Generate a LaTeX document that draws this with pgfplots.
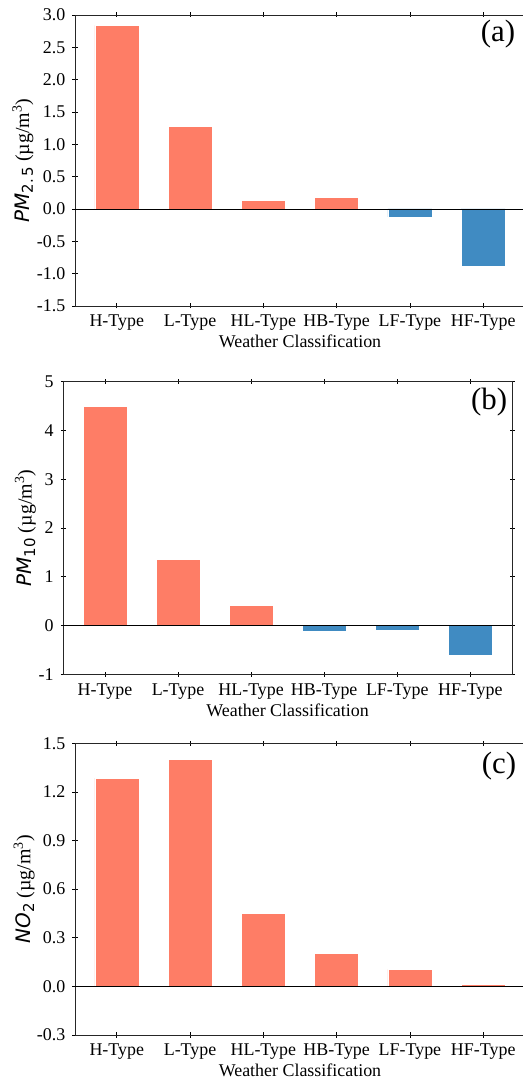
\documentclass[border=0pt]{standalone}
\usepackage{fontspec}
\setmainfont{Liberation Serif}
\newfontfamily\dejavu{DejaVu Sans}
\usepackage{pgfplots}
\pgfplotsset{compat=1.18}
\definecolor{redbar}{RGB}{254,125,102}
\definecolor{bluebar}{RGB}{64,139,194}
\newcommand{\lblfont}{\fontsize{18}{20}\selectfont}
\newcommand{\ylfont}{\fontsize{20}{22}\selectfont}
\newcommand{\subfont}{\dejavu\fontsize{15}{15}\selectfont}
\pgfplotsset{
  panel/.style={
    scale only axis,
    anchor=south west,
    axis on top,
    xmin=-0.57, xmax=5.57,
    xtick={0,1,2,3,4,5},
    xticklabels={H-Type,L-Type,HL-Type,HB-Type,LF-Type,HF-Type},
    tick align=center,
    major tick length=5bp,
    tick style={black, line width=0.7bp},
    axis line style={black!85, line width=0.8bp},
    ticklabel style={font=\lblfont},
    xticklabel style={anchor=base, inner sep=0pt, yshift=-18.3bp},
    yticklabel style={anchor=east, inner sep=0pt, xshift=-7bp},
    xlabel={Weather Classification},
    xlabel style={font=\lblfont, at={(axis description cs:0.5,0)}, anchor=base, inner sep=0pt},
    ylabel style={font=\ylfont, anchor=center, rotate=0},
    extra y ticks={0},
    extra y tick labels={},
    extra y tick style={grid=major, major grid style={black, line width=0.9bp}, major tick length=0pt},
    clip=false,
  },
  redb/.style={ybar, bar width=0.6, bar shift=0pt, fill=redbar, draw=white, line width=0.5bp},
  blueb/.style={ybar, bar width=0.6, bar shift=0pt, fill=bluebar, draw=white, line width=0.5bp},
}
\begin{document}
\begin{tikzpicture}
% ---------- (a) ----------
\begin{axis}[panel,
  at={(75bp,773bp)}, width=450bp, height=291bp,
  ymin=-1.5, ymax=3.0,
  ytick={-1.5,-1.0,-0.5,0.0,0.5,1.0,1.5,2.0,2.5,3.0},
  yticklabels={-1.5,-1.0,-0.5,0.0,0.5,1.0,1.5,2.0,2.5,3.0},
  xlabel style={yshift=-42bp},
  ylabel={{\dejavu\itshape PM}\raisebox{-0.4ex}{\subfont 2.\,5} (µg/m\textsuperscript{3})},
  ylabel style={at={(axis description cs:-0.1155,0.5)}},
]
\addplot[redb] coordinates {(0,2.84) (1,1.28) (2,0.13) (3,0.175)};
\addplot[blueb] coordinates {(4,-0.12) (5,-0.88)};
\node[font=\fontsize{31}{33}\selectfont] at (axis description cs:0.94,0.935) {(a)};
\end{axis}
% ---------- (b) ----------
\begin{axis}[panel,
  at={(63.3bp,404.7bp)}, width=448.7bp, height=292.6bp,
  ymin=-1, ymax=5,
  ytick={-1,0,1,2,3,4,5},
  yticklabels={-1,0,1,2,3,4,5},
  xlabel style={yshift=-42.4bp},
  ylabel={{\dejavu\itshape PM}\raisebox{-0.4ex}{\subfont 10} (µg/m\textsuperscript{3})},
  ylabel style={at={(axis description cs:-0.0847,0.5)}},
]
\addplot[redb] coordinates {(0,4.5) (1,1.36) (2,0.42)};
\addplot[blueb] coordinates {(3,-0.11) (4,-0.10) (5,-0.61)};
\node[font=\fontsize{31}{33}\selectfont] at (axis description cs:0.949,0.932) {(b)};
\end{axis}
% ---------- (c) ----------
\begin{axis}[panel,
  at={(75bp,44bp)}, width=450bp, height=291.7bp,
  ymin=-0.3, ymax=1.5,
  ytick={-0.3,0,0.3,0.6,0.9,1.2,1.5},
  yticklabels={-0.3,0.0,0.3,0.6,0.9,1.2,1.5},
  xlabel style={yshift=-41.7bp},
  ylabel={{\dejavu\itshape NO}\raisebox{-0.4ex}{\subfont 2} (µg/m\textsuperscript{3})},
  ylabel style={at={(axis description cs:-0.113,0.5)}},
]
\addplot[redb] coordinates {(0,1.285) (1,1.40) (2,0.45) (3,0.204) (4,0.105) (5,0.012)};
\node[font=\fontsize{31}{33}\selectfont] at (axis description cs:0.942,0.923) {(c)};
\end{axis}
\pgfresetboundingbox
\path[use as bounding box] (0,0) rectangle (523bp,1079bp);
\end{tikzpicture}
\end{document}
